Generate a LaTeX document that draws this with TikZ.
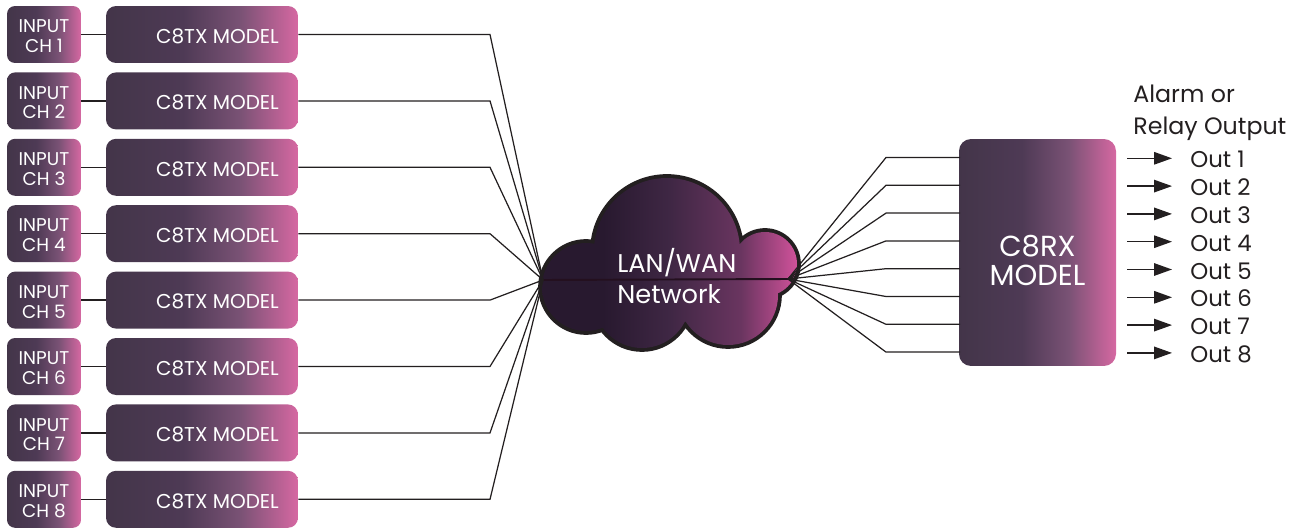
\documentclass[tikz,border=0pt]{standalone}
\usepackage{fontspec}
\setmainfont{Poppins}
\usetikzlibrary{arrows.meta, calc, positioning}

\definecolor{boxdark}{HTML}{433549}
\definecolor{boxmidA}{HTML}{4E3A55}
\definecolor{boxmidB}{HTML}{7A5275}
\definecolor{boxpink}{HTML}{D668A2}
\definecolor{clouddark}{HTML}{28192F}
\definecolor{cloudmidA}{HTML}{3F2744}
\definecolor{cloudmidB}{HTML}{6A3560}
\definecolor{cloudpink}{HTML}{D0529A}
\definecolor{wireblack}{HTML}{231F20}
\definecolor{seam}{HTML}{24101F}

\pgfdeclarehorizontalshading{boxgrad}{100bp}{color(0bp)=(boxdark); color(25bp)=(boxdark); color(45bp)=(boxmidA); color(60bp)=(boxmidB); color(75bp)=(boxpink); color(100bp)=(boxpink)}
\pgfdeclarehorizontalshading{cloudgrad}{100bp}{color(0bp)=(clouddark); color(25bp)=(clouddark); color(37bp)=(clouddark); color(50bp)=(cloudmidA); color(64bp)=(cloudmidB); color(75bp)=(cloudpink); color(100bp)=(cloudpink)}

% cloud outline as a union of circles
\newcommand{\lancloud}{(667,251) circle[radius=73] (586,287) circle[radius=44] (765,264) circle[radius=32] (642,300) circle[radius=48] (728,295) circle[radius=50]}

\begin{document}
\begin{tikzpicture}[x=0.02cm, y=-0.02cm,
    inbox/.style={shade, shading=boxgrad, rounded corners=0.16cm, minimum width=1.48cm, minimum height=1.14cm, inner sep=0pt},
    intext/.style={inner sep=0pt, text=white, align=center, yshift=-0.035cm, font=\fontsize{10.5}{11.3}\selectfont},
    txbox/.style={shade, shading=boxgrad, rounded corners=0.2cm, minimum width=3.84cm, minimum height=1.14cm, inner sep=0pt, text=white, text height=10pt, text depth=0pt, font=\fontsize{11.4}{13}\selectfont},
    rxbox/.style={shade, shading=boxgrad, rounded corners=0.24cm, minimum width=3.14cm, minimum height=4.54cm, inner sep=0pt},
    rxtext/.style={inner sep=0pt, text=white, align=center, yshift=-0.16cm, font=\fontsize{16.5}{16.4}\selectfont},
    wire/.style={draw=wireblack, line width=0.7pt},
    outarrow/.style={draw=wireblack, line width=0.8pt, -{Triangle[length=0.36cm, width=0.25cm]}, shorten <=0.22cm, shorten >=0.36cm},
    outtext/.style={inner sep=0pt, anchor=west, text=wireblack, text height=11pt, text depth=0pt, font=\fontsize{13}{15}\selectfont}]

\useasboundingbox (0,0) rectangle (1293,527);

% network cloud
\path[draw=wireblack, line width=4.4pt] \lancloud;
\shade[shading=cloudgrad] \lancloud;
\coordinate (lhub) at (543,280);
\coordinate (rhub) at (788,279);
\coordinate (lelbow) at (490,0);
\coordinate (relbow) at (886,0);
\draw[draw=seam, line width=1.1pt] (lhub) -- (rhub);
\node[inner sep=0pt, anchor=west, text=white, align=left, font=\fontsize{14.6}{18}\selectfont] (net) at (617,276) {LAN/WAN\\Network};

% transmitters
\foreach \i in {1,...,8} {
    \pgfmathsetmacro\ry{34.5+66.4*(\i-1)}
    \node[inbox, label={[intext]center:INPUT\\CH \i}] (in\i) at (44,\ry) {};
    \node[txbox] (tx\i) at (202,\ry) {\hspace*{0.62cm}C8TX MODEL};
    \draw[wire] (in\i) -- (tx\i);
    \draw[wire] (tx\i.east) -- (tx\i.east -| lelbow) -- (lhub);
}

% receiver
\node[rxbox, label={[rxtext]center:C8RX\\MODEL}] (rx) at (1037.5,252.5) {};
\node[inner sep=0pt, anchor=north west, align=left, text=wireblack, font=\fontsize{13.5}{18}\selectfont] (alarm) at (1133,85) {Alarm or\\Relay Output};

\foreach \j in {1,...,8} {
    \pgfmathsetmacro\oy{157.5+27.8*(\j-1)}
    \coordinate (rin\j) at (960,\oy);
    \draw[wire] (rhub) -- (rin\j -| relbow) -- (rin\j);
    \node[outtext] (out\j) at (1190,\oy+0.8) {Out \j};
    \draw[outarrow] (out\j.west -| rx.east) -- (out\j.west);
}
\end{tikzpicture}
\end{document}
